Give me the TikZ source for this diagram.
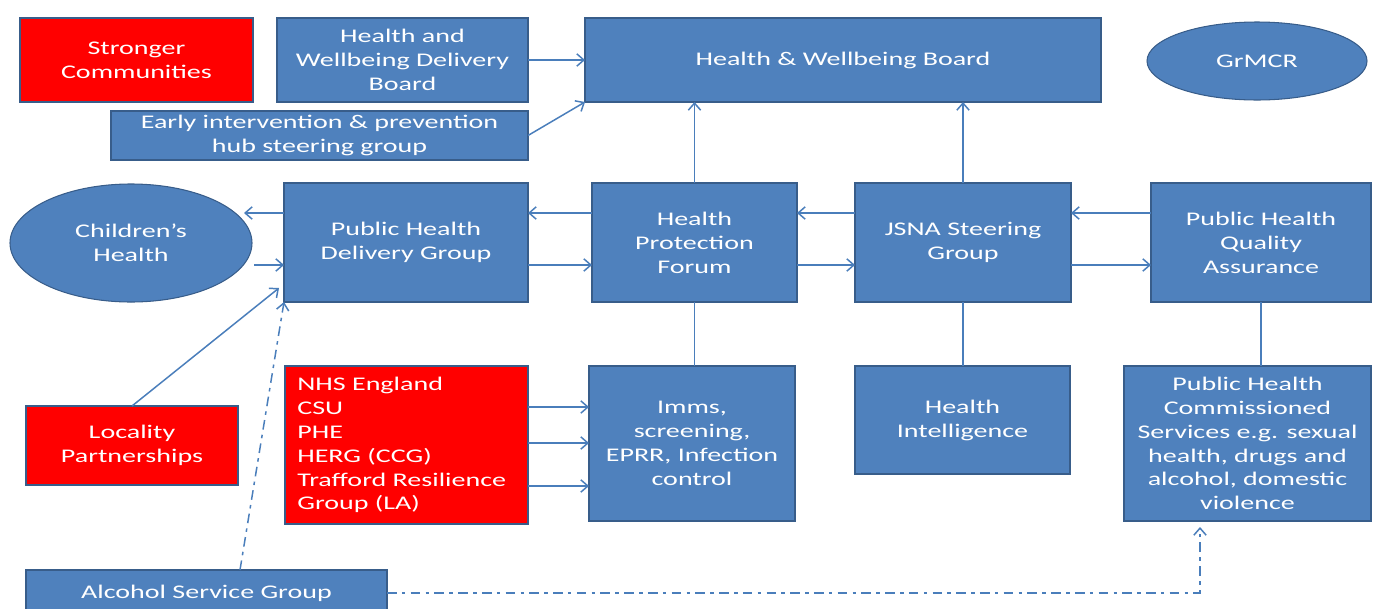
\documentclass[tikz,border=0pt]{standalone}
\usepackage{fontspec}
\setmainfont{Carlito}[FakeStretch=1.45]
\usepackage{tikz}
\usetikzlibrary{arrows.meta, shapes.geometric}
\definecolor{boxblue}{HTML}{4F81BD}
\definecolor{edgeblue}{HTML}{385D8A}
\definecolor{linkblue}{HTML}{4A7EBB}
\definecolor{boxred}{HTML}{FF0000}
\tikzset{
  wh/.style 2 args={minimum width=#1*0.02cm, minimum height=#2*0.02cm},
  blockB/.style={rectangle, draw=edgeblue, fill=boxblue, line width=0.6pt,
    text=white, align=center, inner sep=0pt, outer sep=0pt,
    font=\fontsize{11pt}{13.6pt}\selectfont},
  blockR/.style={blockB, fill=boxred},
  blob/.style={blockB, ellipse},
  link/.style={draw=linkblue, line width=0.85pt, -{Straight Barb[length=4pt, width=7pt]}},
  tie/.style={draw=linkblue, line width=0.85pt},
  dotlink/.style={link, dash pattern=on 5.5pt off 3pt on 2pt off 3pt},
}
\begin{document}
\begin{tikzpicture}[x=0.02cm, y=-0.02cm]
\useasboundingbox (0,0) rectangle (1374,609);
\clip (0,0) rectangle (1374,609);

%% ─── Top row ────────────────────────────────────────────────────────────────
\node[blockR, wh={233}{84}]  (strong) at (136.5,60)  {Stronger\\Communities};
\node[blockB, wh={251}{84}]  (hwdb)   at (402.5,60)  {Health and\\Wellbeing Delivery\\Board};
\node[blockB, wh={417}{49}]  (early)  at (319.5,135.5) {Early intervention \& prevention\\hub steering group};
\node[blockB, wh={516}{84}]  (hwb)    at (843,60)    {Health \& Wellbeing Board};
\node[blob,   wh={220}{78}]  (grmcr)  at (1257,61)   {GrMCR};

%% ─── Middle row ─────────────────────────────────────────────────────────────
\node[blob,   wh={242}{118}] (child)  at (131,243)   {Children’s\\Health};
\node[blockB, wh={244}{119}] (phdg)   at (406,242.5) {Public Health\\Delivery Group};
\node[blockB, wh={205}{119}] (hpf)    at (694.5,242.5) {Health\\Protection\\Forum};
\node[blockB, wh={216}{119}] (jsna)   at (963,242.5) {JSNA Steering\\Group};
\node[blockB, wh={220}{119}] (phqa)   at (1261,242.5) {Public Health\\Quality\\Assurance};

%% ─── Lower row ──────────────────────────────────────────────────────────────
\node[blockR, wh={212}{79}]  (local)  at (132,445.5) {Locality\\Partnerships};
\node[blockR, wh={243}{158}] (nhs)    at (406.5,445) {};
\node[text=white, align=left, anchor=west, inner sep=0pt,
      font=\fontsize{11pt}{13.6pt}\selectfont] (nhstext) at (297,445)
  {NHS England\\CSU\\PHE\\HERG (CCG)\\Trafford Resilience\\Group (LA)};
\node[blockB, wh={206}{155}] (imms)   at (692,443.5) {Imms,\\screening,\\EPRR, Infection\\control};
\node[blockB, wh={215}{108}] (intel)  at (962.5,420) {Health\\Intelligence};
\node[blockB, wh={247}{155}] (phcs)   at (1247.5,443.5)
  {Public Health\\Commissioned\\Services e.g. sexual\\health, drugs and\\alcohol, domestic\\violence};
\node[blockB, wh={361}{46}]  (alcohol) at (206.5,593) {Alcohol Service Group};

%% ─── Links into the board ───────────────────────────────────────────────────
\draw[link] (hwdb.east) -- (hwb.west);
\draw[link] (early.east) -- (hwb.south west);
\draw[link] (hpf.north) -- (hpf.north |- hwb.south);
\draw[link] (jsna.north) -- (jsna.north |- hwb.south);

%% ─── Two-way links along the middle row ─────────────────────────────────────
\draw[link] ([yshift=0.59cm]phdg.west) -- ++(-40,0);
\draw[link] ([yshift=-0.45cm]phdg.west) ++(-30,0) -- ([yshift=-0.45cm]phdg.west);
\foreach \a/\b in {phdg/hpf, hpf/jsna, jsna/phqa} {
  \draw[link] ([yshift=0.59cm]\b.west) -- ([yshift=0.59cm]\a.east);
  \draw[link] ([yshift=-0.45cm]\a.east) -- ([yshift=-0.45cm]\b.west);
}

%% ─── Plain ties to the lower row ────────────────────────────────────────────
\draw[tie] (hpf.south) -- (hpf.south |- imms.north);
\draw[tie] (jsna.south) -- (jsna.south |- intel.north);
\draw[tie] (phqa.south) -- (phqa.south |- phcs.north);

%% ─── Partners into the forum ────────────────────────────────────────────────
\foreach \dy in {0.76, 0.04, -0.82}
  \draw[link] ([yshift=\dy cm]nhs.east) -- ([yshift=\dy cm]nhs.east -| imms.west);
\draw[link] (local.north) -- ([xshift=-0.1cm, yshift=0.28cm]phdg.south west);

%% ─── Alcohol service group (dash-dot) ───────────────────────────────────────
\draw[dotlink] ([xshift=0.67cm]alcohol.north) -- (phdg.south west);
\draw[dotlink] (alcohol.east) -| ([xshift=-0.95cm, yshift=-0.12cm]phcs.south);

\end{tikzpicture}
\end{document}
